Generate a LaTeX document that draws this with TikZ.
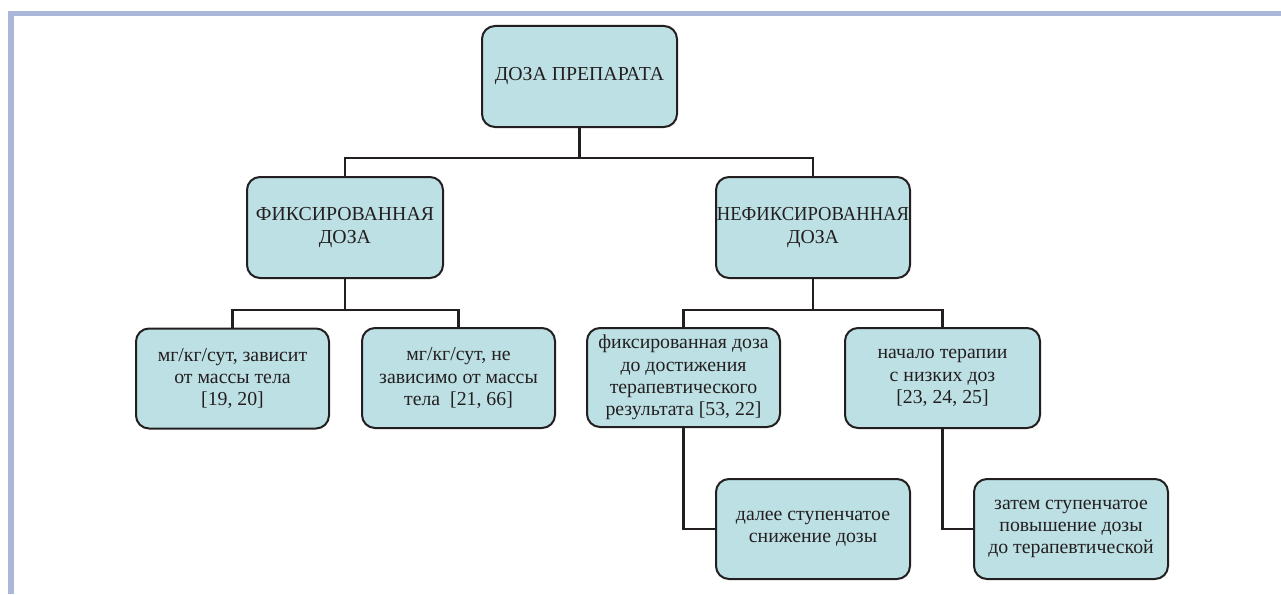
\documentclass[tikz,border=0pt]{standalone}
\usepackage{fontspec}
\setmainfont{Liberation Serif}
\begin{document}
\begin{tikzpicture}[x=1pt,y=-1pt,
  box/.style={draw=boxline, fill=boxfill, line width=2pt, rounded corners=13pt,
    align=center, inner sep=0pt, font=\fontsize{19.8}{22.2}\selectfont, text=textcol},
  conn/.style={draw=boxline, line width=2.6pt}]
\definecolor{boxfill}{HTML}{BDE0E4}
\definecolor{boxline}{HTML}{231F20}
\definecolor{textcol}{HTML}{231F20}
\definecolor{band}{HTML}{AAB7D9}
\useasboundingbox (0,0) rectangle (1281,594);
\fill[band] (8,11.5) rectangle (1281,16.5);
\fill[band] (8,11.5) rectangle (13.5,594);

\node[box, minimum width=195pt, minimum height=101pt] (top) at (579.5,76.5) {ДОЗА ПРЕПАРАТА};
\node[box, minimum width=196pt, minimum height=101pt] (fix) at (345,227.5) {ФИКСИРОВАННАЯ\\ДОЗА};
\node[box, minimum width=194pt, minimum height=101pt] (nefix) at (813,227.5) {\makebox[0pt]{\scalebox{0.94}[1]{НЕФИКСИРОВАННАЯ}}\\ДОЗА};
\node[box, minimum width=193pt, minimum height=100pt] (ll) at (232.5,378.5) {мг/кг/сут, зависит\\от массы тела\\{[19, 20]}};
\node[box, minimum width=193pt, minimum height=100pt] (lr) at (458.5,378) {мг/кг/сут, не\\зависимо от массы\\тела\ \ [21, 66]};
\node[box, minimum width=193pt, minimum height=99pt] (rl) at (683.5,377.5) {фиксированная доза\\до достижения\\терапевтического\\результата [53, 22]};
\node[box, minimum width=195pt, minimum height=100pt] (rr) at (942.5,378) {начало терапии\\с низких доз\\{[23, 24, 25]}};
\node[box, minimum width=194pt, minimum height=100pt] (dal) at (813,529) {далее ступенчатое\\снижение дозы};
\node[box, minimum width=194pt, minimum height=100pt] (zat) at (1071,529) {затем ступенчатое\\повышение дозы\\до терапевтической};

\coordinate (j1) at (579.5,158);
\coordinate (j2) at (345,310);
\coordinate (j3) at (813,310);
\draw[conn] (top.south) -- (j1);
\draw[conn] (fix.north) |- (j1) -| (nefix.north);
\draw[conn] (fix.south) -- (j2);
\draw[conn] (ll.north) |- (j2) -| (lr.north);
\draw[conn] (nefix.south) -- (j3);
\draw[conn] (rl.north) |- (j3) -| (rr.north);
\draw[conn] (rl.south) |- (dal.west);
\draw[conn] (rr.south) |- (zat.west);
\end{tikzpicture}
\end{document}
